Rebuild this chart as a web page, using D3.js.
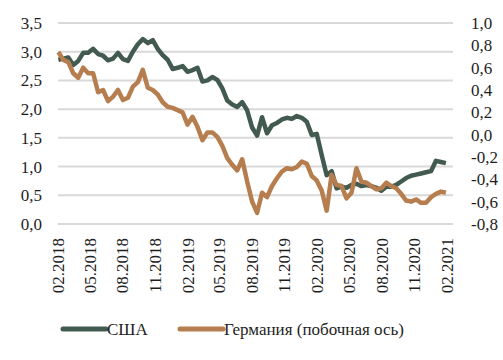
<!DOCTYPE html>
<html>
<head>
<meta charset="utf-8">
<script src="https://cdn.jsdelivr.net/npm/d3@7"></script>
</head>
<body style="margin:0;background:#fff">
<div id="wrap" style="position:relative;width:503px;height:360px;font-family:'Liberation Serif';font-size:17px;color:#1e1e1e"><svg id="chart" style="position:absolute;left:0;top:0"></svg></div>
<script>
// series are bi-weekly observations, first one on startDate
const startDate = "2018-02-02";
const stepDays = 14;

const usa = [
  2.86, 2.88, 2.90, 2.77, 2.84, 2.98, 2.98, 3.05, 2.96, 2.93,
  2.85, 2.88, 2.98, 2.87, 2.84, 3.00, 3.13, 3.22, 3.15, 3.20,
  3.05, 2.94, 2.86, 2.70, 2.72, 2.75, 2.65, 2.68, 2.72, 2.48,
  2.50, 2.56, 2.51, 2.36, 2.15, 2.08, 2.04, 2.12, 1.98, 1.68,
  1.54, 1.86, 1.58, 1.72, 1.76, 1.82, 1.85, 1.83, 1.88, 1.85,
  1.78, 1.55, 1.57, 1.20, 0.85, 0.92, 0.62, 0.65, 0.63, 0.68,
  0.70, 0.66, 0.68, 0.66, 0.63, 0.58, 0.65, 0.65, 0.68, 0.74,
  0.80, 0.84, 0.86, 0.88, 0.90, 0.92, 1.10, 1.08, 1.06
];

const germany = [
  0.74, 0.67, 0.65, 0.55, 0.51, 0.60, 0.55, 0.55, 0.38, 0.40,
  0.30, 0.34, 0.40, 0.31, 0.33, 0.43, 0.47, 0.58, 0.42, 0.40,
  0.36, 0.29, 0.25, 0.24, 0.22, 0.20, 0.09, 0.16, 0.07, -0.05,
  0.02, 0.02, -0.02, -0.10, -0.21, -0.27, -0.32, -0.22, -0.42, -0.60,
  -0.70, -0.52, -0.56, -0.46, -0.39, -0.33, -0.30, -0.31, -0.29, -0.24,
  -0.26, -0.37, -0.41, -0.50, -0.68, -0.36, -0.45, -0.46, -0.57, -0.52,
  -0.30, -0.42, -0.43, -0.46, -0.49, -0.48, -0.43, -0.46, -0.48, -0.53,
  -0.59, -0.60, -0.58, -0.61, -0.61, -0.56, -0.53, -0.51, -0.52
];

const xTicks = ["02.2018", "05.2018", "08.2018", "11.2018", "02.2019", "05.2019",
  "08.2019", "11.2019", "02.2020", "05.2020", "08.2020", "11.2020", "02.2021"];
const leftTicks = [0, 0.5, 1, 1.5, 2, 2.5, 3, 3.5];
const rightTicks = [-0.8, -0.6, -0.4, -0.2, 0, 0.2, 0.4, 0.6, 0.8, 1.0];
const seriesNames = ["США", "Германия (побочная ось)"];

const width = 503, height = 360;
const margin = { top: 23, right: 50, bottom: 136, left: 58 };
const colUsa = "#425a4f", colGer = "#b67d4f";

const svg = d3.select("#chart").attr("width", width).attr("height", height);
const wrap = d3.select("#wrap");

const parse = d3.timeParse("%Y-%m-%d");
const parseTick = d3.timeParse("%m.%Y");
const t0 = parse(startDate);
const dates = usa.map((d, i) => d3.timeDay.offset(t0, i * stepDays));

let x = d3.scaleTime()
    .domain([parseTick("02.2018"), d3.timeDay.offset(parseTick("02.2021"), 17)])
    .range([margin.left, width - margin.right]);
let yL = d3.scaleLinear().domain([0, 3.5]).range([height - margin.bottom, margin.top]);
let yR = d3.scaleLinear().domain([-0.8, 1.0]).range([height - margin.bottom, margin.top]);

const fmt = d => d3.format(".1f")(d).replace(".", ",").replace("−", "-");

// helper for an absolutely placed html label
function label(sel, cls) {
    return sel.append("div")
        .attr("class", cls)
        .style("position", "absolute")
        .style("font-family", "'Liberation Serif'")
        .style("line-height", "1")
        .style("white-space", "nowrap");
}

// grid lines
svg.append("g")
    .selectAll("line")
    .data(leftTicks)
    .enter().append("line")
    .attr("x1", margin.left).attr("x2", width - margin.right)
    .attr("y1", d => yL(d)).attr("y2", d => yL(d))
    .attr("stroke", "#d9d9d9").attr("stroke-width", 2);

leftTicks.forEach(d => {
    label(wrap, "yl")
        .style("right", (width - margin.left + 16) + "px")
        .style("top", yL(d) + "px")
        .style("transform", "translateY(-50%)")
        .text(fmt(d));
});

rightTicks.forEach(d => {
    label(wrap, "yr")
        .style("left", (width - margin.right + 18) + "px")
        .style("top", yR(d) + "px")
        .style("transform", "translateY(-50%)")
        .text(fmt(d));
});

xTicks.forEach(d => {
    label(wrap, "xl")
        .style("left", x(parseTick(d)) + "px")
        .style("top", (height - margin.bottom + 14) + "px")
        .style("transform-origin", "0 0")
        .style("transform", "rotate(-90deg) translate(-100%, -50%)")
        .text(d);
});

// lines: USA first, Germany drawn on top
let lineUsa = d3.line().x((d, i) => x(dates[i])).y(d => yL(d));
let lineGer = d3.line().x((d, i) => x(dates[i])).y(d => yR(d));

svg.append("path").datum(usa)
    .attr("d", lineUsa)
    .attr("fill", "none").attr("stroke", colUsa)
    .attr("stroke-width", 4.5).attr("stroke-linejoin", "round");
svg.append("path").datum(germany)
    .attr("d", lineGer)
    .attr("fill", "none").attr("stroke", colGer)
    .attr("stroke-width", 4.5).attr("stroke-linejoin", "round");

// legend
let legY = 329;
let legX = [63, 180];
[colUsa, colGer].forEach((c, i) => {
    svg.append("line")
        .attr("x1", legX[i]).attr("x2", legX[i] + 43)
        .attr("y1", legY).attr("y2", legY)
        .attr("stroke", c).attr("stroke-width", 5).attr("stroke-linecap", "round");
    label(wrap, "leg")
        .style("left", (legX[i] + 44) + "px")
        .style("top", legY + "px")
        .style("transform", "translateY(-50%)")
        .text(seriesNames[i]);
});
</script>
</body>
</html>
